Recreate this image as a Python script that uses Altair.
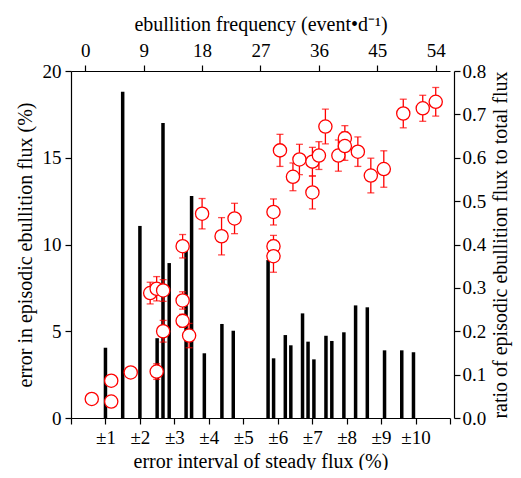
import altair as alt
import pandas as pd

# Bars: error interval of steady flux (bottom axis) vs error in episodic flux (left axis)
bar_x = [1.0, 1.5, 2.0, 2.5, 2.67, 2.85, 3.34, 3.5, 3.87, 4.38, 4.71, 5.72, 5.88,
         6.22, 6.38, 6.72, 6.88, 7.05, 7.4, 7.57, 7.92, 8.26, 8.6, 9.1, 9.6, 9.94]
bar_h = [4.05, 18.8, 11.07, 4.6, 17.0, 8.93, 9.7, 12.8, 3.73, 5.42, 5.03, 9.1, 3.44,
         4.78, 4.19, 6.03, 4.4, 3.38, 4.74, 4.44, 4.94, 6.49, 6.38, 3.9, 3.9, 3.79]

# Points: ebullition frequency (top axis) vs ratio (right axis)
freq = [1, 4, 4, 7, 11, 10, 11, 12, 12, 15, 15, 15, 16, 18, 21, 23, 29, 29, 29,
        30, 32, 33, 35, 35, 36, 37, 39, 40, 40, 42, 44, 46, 49, 52, 54]
ratio = [0.044, 0.038, 0.086, 0.105, 0.107, 0.288, 0.298, 0.294, 0.200, 0.396,
         0.271, 0.224, 0.190, 0.471, 0.419, 0.460, 0.475, 0.396, 0.373, 0.617,
         0.556, 0.596, 0.591, 0.520, 0.605, 0.672, 0.605, 0.645, 0.627, 0.614,
         0.559, 0.574, 0.702, 0.714, 0.729]
err = [0.005, 0.005, 0.005, 0.005, 0.018, 0.025, 0.028, 0.025, 0.025, 0.027,
       0.020, 0.015, 0.028, 0.035, 0.043, 0.035, 0.030, 0.025, 0.037, 0.037,
       0.032, 0.035, 0.033, 0.038, 0.032, 0.040, 0.036, 0.029, 0.033, 0.034,
       0.040, 0.042, 0.033, 0.030, 0.033]

bottom_ticks = list(range(0, 12))
top_ticks = [0, 9, 18, 27, 36, 45, 54]
left_ticks = [0, 5, 10, 15, 20]
right_ticks = [0.0, 0.1, 0.2, 0.3, 0.4, 0.5, 0.6, 0.7, 0.8]

bars_df = pd.DataFrame({"x": bar_x, "h": bar_h, "z": [0] * len(bar_x)})
pts_df = pd.DataFrame({"f": freq, "r": ratio, "e": err})
pts_df["lo"] = pts_df["r"] - pts_df["e"]
pts_df["hi"] = pts_df["r"] + pts_df["e"]

FONT = "Liberation Serif"
LBL = 19
TTL = 20
RED = "#ff0000"


def ax(**kw):
    return alt.Axis(grid=False, labelFont=FONT, titleFont=FONT, labelFontSize=LBL,
                    titleFontSize=TTL, titleFontWeight="normal", **kw)


xb = alt.X("x:Q", scale=alt.Scale(domain=[0, 11], nice=False, zero=False),
           axis=ax(orient="bottom", values=bottom_ticks,
                   labelExpr="datum.value >= 1 && datum.value <= 10 ? '±' + datum.value : ''",
                   title="error interval of steady flux (%)", titlePadding=4, labelPadding=4))
yb = alt.Y("h:Q", scale=alt.Scale(domain=[0, 20], nice=False),
           axis=ax(orient="left", values=left_ticks,
                   title="error in episodic ebullition flux (%)", titlePadding=7, labelPadding=4))

bars = alt.Chart(bars_df).mark_rule(strokeWidth=3.5, color="black", strokeCap="butt").encode(
    x=xb, y=yb, y2="z:Q")

xt = alt.X("f:Q", scale=alt.Scale(domain=[-2.2, 56.2], nice=False, zero=False),
           axis=ax(orient="top", values=top_ticks,
                   title="ebullition frequency (event•d⁻¹)", titlePadding=7, labelPadding=5))


def yr(field):
    return alt.Y(field, type="quantitative", scale=alt.Scale(domain=[0, 0.8], nice=False),
                 axis=ax(orient="right", values=right_ticks, format=".1f",
                         offset=4, title="ratio of episodic ebullition flux to total flux",
                         titleAngle=270, titleBaseline="top", titlePadding=5, labelPadding=2))


base = alt.Chart(pts_df)
err_rule = base.mark_rule(color=RED, strokeWidth=1.3).encode(x=xt, y=yr("lo"), y2="hi:Q")
cap_lo = base.mark_tick(color=RED, orient="horizontal", size=7, thickness=1.3).encode(x=xt, y=yr("lo"))
cap_hi = base.mark_tick(color=RED, orient="horizontal", size=7, thickness=1.3).encode(x=xt, y=yr("hi"))
circles = base.mark_point(shape="circle", size=175, strokeWidth=1.3, color=RED, filled=False,
                          fill="white", fillOpacity=1, opacity=1).encode(x=xt, y=yr("r"))

points = alt.layer(err_rule, cap_lo, cap_hi, circles)

chart = alt.layer(bars, points).resolve_scale(x="independent", y="independent").properties(
    width=379, height=347, autosize="none",
    padding={"left": 63, "top": 63, "right": 63, "bottom": 52},
).configure(font=FONT).configure_view(strokeWidth=0).configure_axis(
    labelColor="black", titleColor="black",
    domainColor="black", tickColor="black", domainWidth=1.2, tickWidth=1.2,
    tickSize=6,
)

chart.save("out.html", embed_options={"renderer": "svg", "actions": False})
